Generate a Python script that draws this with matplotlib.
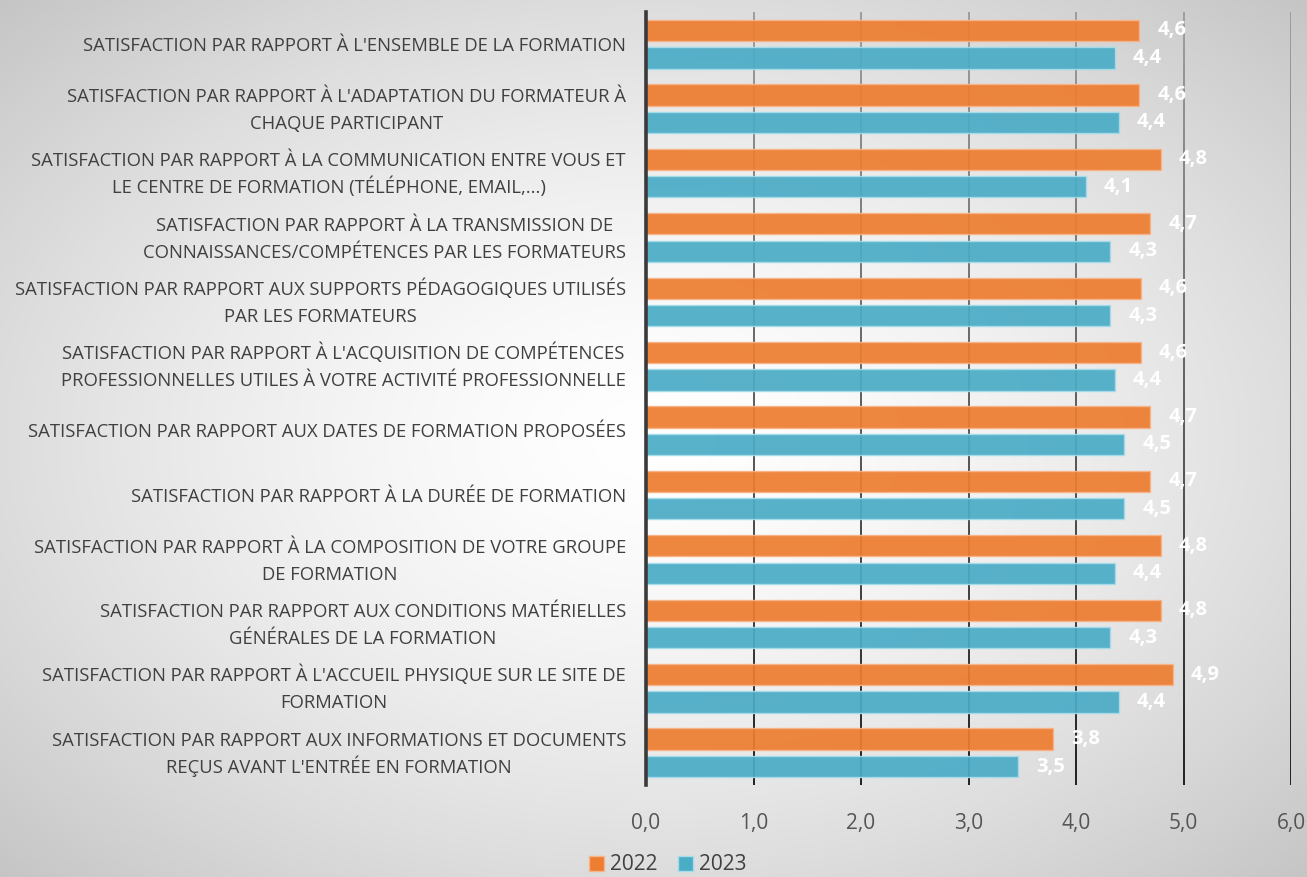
import numpy as np
import matplotlib
matplotlib.use("Agg")
import matplotlib.pyplot as plt
from matplotlib.collections import LineCollection
from matplotlib.patches import Patch

categories = [
    "SATISFACTION PAR RAPPORT À L'ENSEMBLE DE LA FORMATION",
    "SATISFACTION PAR RAPPORT À L'ADAPTATION DU FORMATEUR À\nCHAQUE PARTICIPANT",
    "SATISFACTION PAR RAPPORT À LA COMMUNICATION ENTRE VOUS ET\nLE CENTRE DE FORMATION (TÉLÉPHONE, EMAIL,...)",
    "SATISFACTION PAR RAPPORT À LA TRANSMISSION DE \nCONNAISSANCES/COMPÉTENCES PAR LES FORMATEURS",
    "SATISFACTION PAR RAPPORT AUX SUPPORTS PÉDAGOGIQUES UTILISÉS\nPAR LES FORMATEURS",
    "SATISFACTION PAR RAPPORT À L'ACQUISITION DE COMPÉTENCES\nPROFESSIONNELLES UTILES À VOTRE ACTIVITÉ PROFESSIONNELLE",
    "SATISFACTION PAR RAPPORT AUX DATES DE FORMATION PROPOSÉES",
    "SATISFACTION PAR RAPPORT À LA DURÉE DE FORMATION",
    "SATISFACTION PAR RAPPORT À LA COMPOSITION DE VOTRE GROUPE\nDE FORMATION",
    "SATISFACTION PAR RAPPORT AUX CONDITIONS MATÉRIELLES\nGÉNÉRALES DE LA FORMATION",
    "SATISFACTION PAR RAPPORT À L'ACCUEIL PHYSIQUE SUR LE SITE DE\nFORMATION",
    "SATISFACTION PAR RAPPORT AUX INFORMATIONS ET DOCUMENTS\nREÇUS AVANT L'ENTRÉE EN FORMATION",
]
values_2022 = [4.59, 4.59, 4.79, 4.69, 4.60, 4.60, 4.69, 4.69, 4.79, 4.79, 4.90, 3.79]
values_2023 = [4.36, 4.40, 4.09, 4.32, 4.32, 4.36, 4.45, 4.45, 4.36, 4.32, 4.40, 3.46]
series_labels = ["2022", "2023"]
xticks = [0, 1, 2, 3, 4, 5, 6]

FONT = "Open Sans"
W, H = 1307, 877
DPI = 100
fig = plt.figure(figsize=(W / DPI, H / DPI), dpi=DPI)

# background radial gradient
bg = fig.add_axes([0, 0, 1, 1], zorder=-10)
yy, xx = np.mgrid[0:H, 0:W]
cx, cy = 0.50 * W, 0.50 * H
r = np.sqrt(((xx - cx) / (W / 2)) ** 2 + ((yy - cy) / (H / 2)) ** 2) / np.sqrt(2)
g = 255 - 58 * np.clip(r, 0, 1.2) ** 1.5
g = np.clip(g, 0, 255) / 255.0
bg.imshow(np.dstack([g, g, g]), aspect="auto", extent=[0, 1, 0, 1], origin="upper")
bg.set_axis_off()

left = 646 / W
right = 1291 / W
top = 1 - 12 / H
bottom = 1 - 785 / H
ax = fig.add_axes([left, bottom, right - left, top - bottom])
ax.set_facecolor("none")

n = len(categories)
y = np.arange(n)
off = 0.213
h = 0.33
orange = "#ED7D31"
blue = "#4BACC6"
ax.barh(y - off, values_2022, height=h, color=orange, alpha=0.93,
        edgecolor="#F8B48A", linewidth=1.0, zorder=3, label=series_labels[0])
ax.barh(y + off, values_2023, height=h, color=blue, alpha=0.93,
        edgecolor="#A6DCEA", linewidth=1.0, zorder=3, label=series_labels[1])

ax.set_xlim(0, 6)
ax.set_ylim(n - 0.5, -0.5)

# gradient gridlines
segs, cols = [], []
edges = np.linspace(-0.5, n - 0.5, 60)
for xv in xticks[1:]:
    for i in range(len(edges) - 1):
        segs.append([(xv, edges[i]), (xv, edges[i + 1])])
        t = (0.5 * (edges[i] + edges[i + 1]) + 0.5) / n
        c = 0.62 - 0.5 * t
        cols.append((c, c, c, 1))
lc = LineCollection(segs, colors=cols, linewidths=1.4, zorder=1)
ax.add_collection(lc)

for s in ["top", "right", "bottom"]:
    ax.spines[s].set_visible(False)
ax.spines["left"].set_color("#3a3a3a")
ax.spines["left"].set_linewidth(2.6)
ax.spines["left"].set_zorder(5)

ax.set_xticks(xticks)
ax.set_xticklabels([f"{v:.1f}".replace(".", ",") for v in xticks],
                   fontsize=15, color="#555555", family=FONT)
ax.tick_params(axis="x", length=0, pad=20)
ax.set_yticks([])

# category labels: block right-aligned, lines centred, uniform line spacing
LFS = 13.3
renderer = fig.canvas.get_renderer()
px2pt = 72.0 / DPI
gap_px = 20
line_step_px = 27
cap_half_px = 0.714 * LFS / px2pt / 2
for yi, lab in zip(y, categories):
    lines = lab.split("\n")
    widths = []
    for ln in lines:
        t = ax.text(0, 0, ln.strip(), fontsize=LFS, family=FONT)
        widths.append(t.get_window_extent(renderer).width)
        t.remove()
    wmax = max(widths)
    cx_px = -gap_px - wmax / 2
    k = len(lines)
    for j, ln in enumerate(lines):
        dy_px = (j - (k - 1) / 2) * line_step_px + cap_half_px
        ax.annotate(ln.strip(), xy=(0, yi), xycoords=("axes fraction", "data"),
                    xytext=(cx_px * px2pt, -dy_px * px2pt), textcoords="offset points",
                    ha="center", va="baseline", fontsize=LFS, family=FONT,
                    color="#404040", annotation_clip=False)

for vals, dy in ((values_2022, -off), (values_2023, off)):
    for yi, v in zip(y, vals):
        ax.annotate(f"{v:.1f}".replace(".", ","), xy=(v, yi + dy), xytext=(13, 0),
                    textcoords="offset points", ha="left", va="center",
                    color="white", fontsize=14.5, fontweight="bold", family=FONT, zorder=6)

handles = [Patch(facecolor=orange, edgecolor="#F8B48A"), Patch(facecolor=blue, edgecolor="#A6DCEA")]
fig.legend(handles, series_labels, loc="center", bbox_to_anchor=(668 / W, 1 - 865 / H),
           ncol=2, frameon=False, handlelength=0.7, handleheight=0.7,
           handletextpad=0.3, columnspacing=1.0,
           prop={"family": FONT, "size": 15}, labelcolor="#404040")

fig.savefig("out.png", dpi=DPI)
